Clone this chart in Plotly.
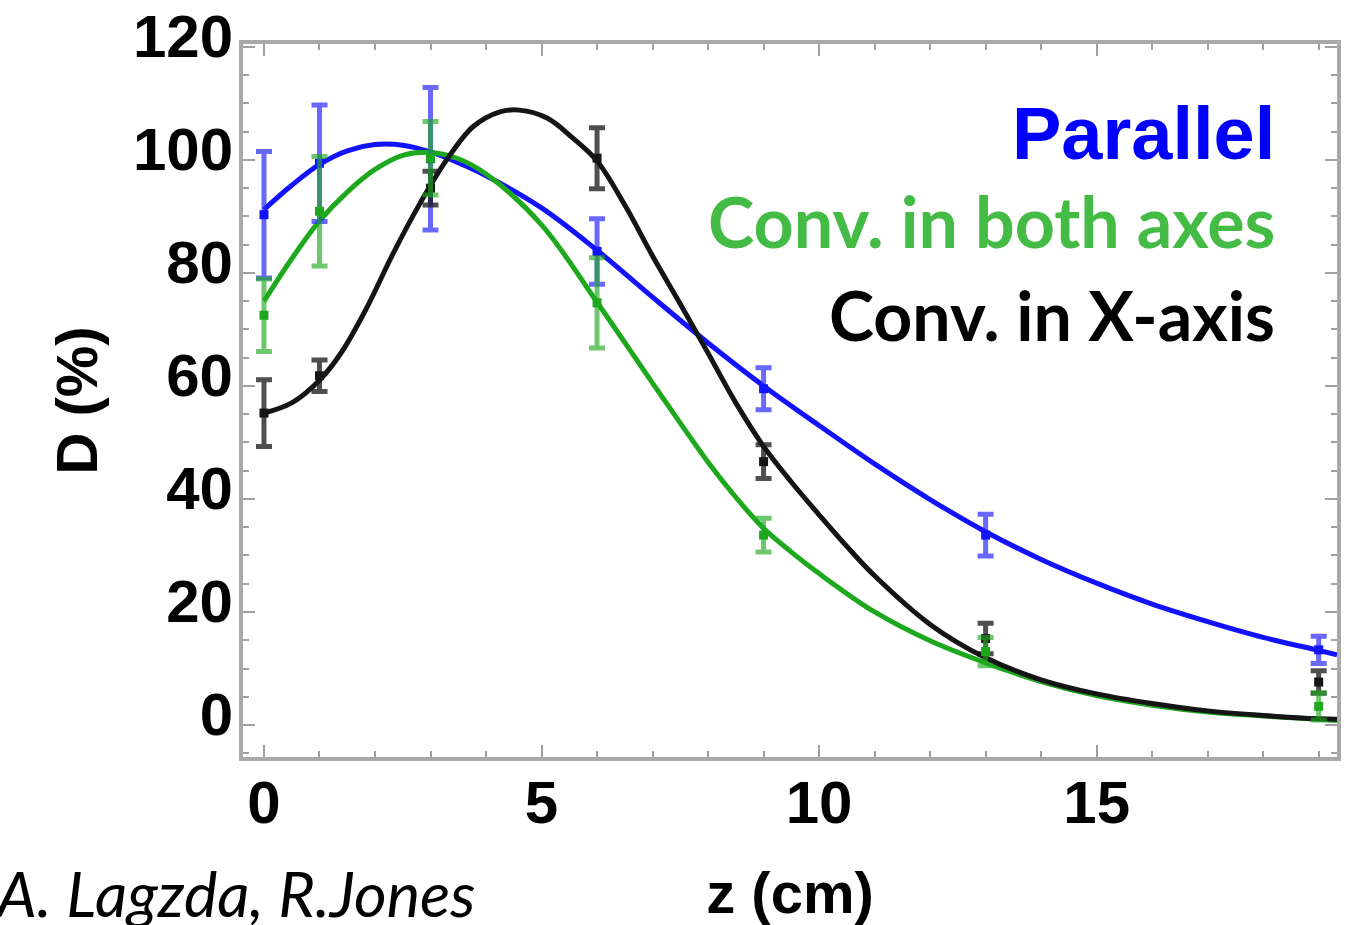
import plotly.graph_objects as go

# ---- data points (z in cm, D in %) ----
z_pts = [0, 1, 3, 6, 9, 13, 19]
par_pts = [90.3, 99.4, 100.2, 83.8, 59.5, 33.6, 13.3]
par_err = [11.2, 10.3, 12.6, 5.8, 3.7, 3.7, 2.4]
both_pts = [72.5, 90.9, 100.3, 74.7, 33.6, 13.0, 3.3]
both_err = [6.4, 9.7, 6.5, 8.0, 3.0, 2.5, 2.4]
xax_pts = [55.2, 61.8, 95.0, 100.3, 46.6, 15.3, 7.6]
xax_err = [5.9, 2.8, 3.0, 5.4, 3.0, 2.7, 2.0]

# ---- fitted curves ----
par_cx = [0, 0.5, 1, 1.5, 2, 2.5, 3, 3.5, 4, 5, 6, 7, 8, 9, 10, 11, 12, 13, 14, 15, 16, 17, 18, 19, 19.33]
par_cy = [91.2, 95.5, 99.2, 101.6, 102.7, 102.6, 101.4, 99.5, 97.2, 91.5, 84.0, 75.7, 67.6, 60.0, 53.0,
          46.2, 39.9, 34.2, 29.3, 25.1, 21.4, 18.3, 15.5, 13.2, 12.4]
both_cx = [0, 0.5, 1, 1.5, 2, 2.5, 3, 3.5, 4, 5, 6, 7, 8, 8.5, 9, 9.5, 10, 11, 12, 13, 14, 15, 16, 17, 18, 19, 19.33]
both_cy = [75.0, 82.5, 89.2, 94.3, 98.3, 100.8, 101.3, 100.2, 97.5, 88.5, 74.8, 60.5, 46.5, 40.3, 34.8, 30.6,
           26.8, 20.0, 14.9, 11.0, 7.7, 5.2, 3.5, 2.3, 1.6, 1.0, 0.8]
xax_cx = [0, 0.5, 1, 1.4, 1.85, 2.33, 2.81, 3.29, 3.77, 4.25, 4.6, 5.1, 5.57, 6, 6.5, 7, 7.5, 8, 8.5, 9, 9.5,
          10, 10.5, 11, 12, 13, 14, 15, 16, 17, 18, 19, 19.33]
xax_cy = [55.2, 57.0, 61.0, 66.0, 73.8, 83.5, 92.3, 100.0, 105.9, 108.5, 108.8, 107.4, 103.8, 99.8, 92.0,
          83.0, 74.5, 65.8, 57.0, 49.3, 43.0, 37.2, 31.6, 26.4, 17.8, 11.9, 8.0, 5.5, 3.8, 2.5, 1.7, 1.1, 1.0]

x_ticks = [0, 5, 10, 15]
y_ticks = [0, 20, 40, 60, 80, 100, 120]

labels = ["Parallel", "Conv. in both axes", "Conv. in X-axis"]

BLUE = "#1212ff"
GREEN = "#1ea81e"
BLACK = "#151515"

fig = go.Figure()

for cx, cy, col in [(par_cx, par_cy, BLUE), (both_cx, both_cy, GREEN), (xax_cx, xax_cy, BLACK)]:
    fig.add_trace(go.Scatter(x=cx, y=cy, mode="lines", line=dict(color=col, width=5, shape="spline", smoothing=1.0),
                             hoverinfo="skip"))

for pts, err, col, ecol in [(par_pts, par_err, BLUE, "rgba(40,40,255,0.7)"),
                            (xax_pts, xax_err, BLACK, "rgba(20,20,20,0.75)"),
                            (both_pts, both_err, GREEN, "rgba(30,170,30,0.65)")]:
    fig.add_trace(go.Scatter(x=z_pts, y=pts, mode="markers",
                             marker=dict(color=col, size=9, symbol="square"),
                             error_y=dict(type="data", array=err, color=ecol, thickness=5, width=8)))

axis_common = dict(
    showline=True, linecolor="#a9a9a9", linewidth=4, mirror="allticks",
    ticks="inside", tickcolor="#a0a0a0", tickwidth=2, showgrid=False, zeroline=False,
    tickfont=dict(family="Liberation Sans", size=60, color="black", weight="bold"),
    ticklabeloverflow="allow", automargin=False,
)

fig.update_xaxes(range=[-0.378, 19.33], tickvals=x_ticks, ticklen=12,
                 minor=dict(dtick=1, ticklen=6, tickcolor="#a0a0a0", tickwidth=2, ticks="inside"),
                 ticklabelstandoff=-10,
                 title=dict(text="z (cm)", font=dict(family="Liberation Sans", size=58, color="black", weight="bold"),
                            standoff=38),
                 **axis_common)
fig.update_yaxes(range=[-5.66, 120.5], tickvals=y_ticks, ticklen=12,
                 minor=dict(dtick=5, ticklen=6, tickcolor="#a0a0a0", tickwidth=2, ticks="inside"),
                 ticklabelstandoff=-6, ticklabelshift=-11,
                 title=dict(text="D (%)", font=dict(family="Liberation Sans", size=58, color="black", weight="bold"),
                            standoff=18),
                 **axis_common)

ann = [
    dict(text=labels[0], x=0.945, y=0.875, font=dict(family="Liberation Sans", size=74, color="#0000ff", weight="bold")),
    dict(text=labels[1], x=0.945, y=0.752, font=dict(family="Lato", size=70, color="#44bb44", weight="bold")),
    dict(text=labels[2], x=0.945, y=0.621, font=dict(family="Lato", size=68, color="black", weight="bold")),
]
for a in ann:
    fig.add_annotation(xref="paper", yref="paper", xanchor="right", yanchor="middle", showarrow=False, **a)

fig.add_annotation(xref="paper", yref="paper", x=-0.2294, y=-0.19, xanchor="left", yanchor="middle",
                   showarrow=False, text="A. <i>Lagzda, R.Jones</i>",
                   font=dict(family="Lato", size=63, color="black", style="italic"))

fig.update_layout(
    width=1353, height=925, margin=dict(l=243, r=16, t=44, b=168, autoexpand=False),
    paper_bgcolor="white", plot_bgcolor="white", showlegend=False,
)

fig.write_html("out.html")
